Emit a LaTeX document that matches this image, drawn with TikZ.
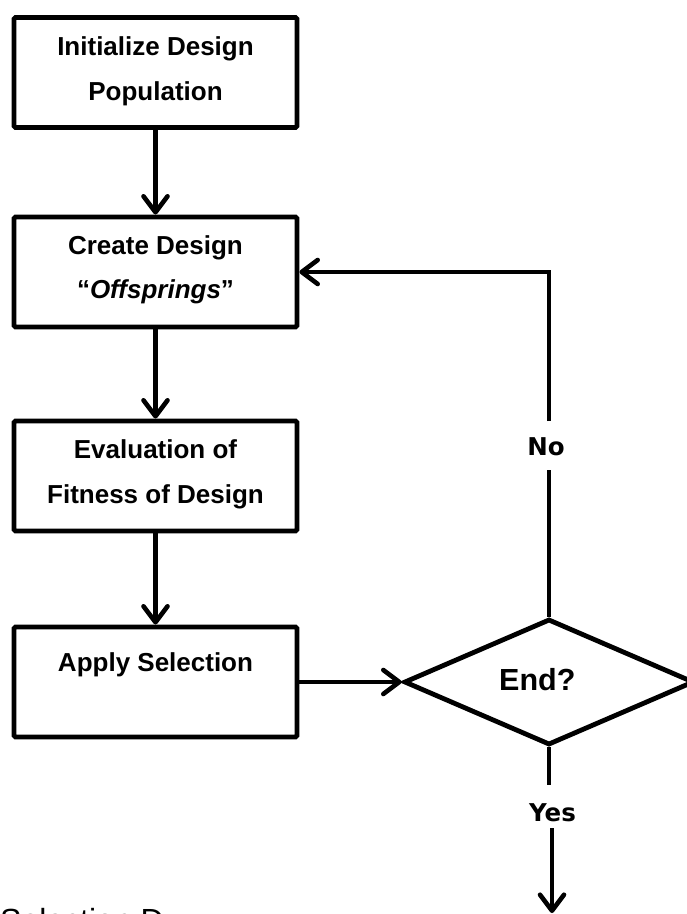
\documentclass[tikz,border=0pt]{standalone}
\usepackage{fontspec}
\setmainfont{Liberation Sans}
\newfontfamily\verdfont{DejaVu Sans}
\usetikzlibrary{arrows.meta,shapes.geometric}

\begin{document}
\begin{tikzpicture}[x=1pt,y=-1pt,
  stage/.style={draw, line width=4.8pt, rounded corners=1.5pt,
    minimum width=283pt, minimum height=110pt, inner sep=0pt},
  decision/.style={draw, diamond, aspect=2.3, line width=4.8pt,
    minimum width=290pt, minimum height=126pt, inner sep=0pt},
  boxtext/.style={anchor=base, inner sep=0pt,
    font=\bfseries\fontsize{26}{30}\selectfont},
  branch/.style={anchor=base, inner sep=0pt,
    font=\verdfont\bfseries\fontsize{24.5}{28}\selectfont},
  link/.style={line width=4.6pt},
  flow/.style={link, -{Straight Barb[length=16pt,width=24pt,round]}},
]
\useasboundingbox (0,0) rectangle (687,914);
\clip (0,0) rectangle (687,914);

% process boxes
\node[stage] (b1) at (155.5,72.5) {};
\node[stage] (b2) at (155.5,272) {};
\node[stage] (b3) at (155.5,476) {};
\node[stage] (b4) at (155.5,682) {};

\node[boxtext] (t1a) at (155.5,55) {Initialize Design};
\node[boxtext] (t1b) at (155.5,100) {Population};
\node[boxtext] (t2a) at (155.5,254) {Create Design};
\node[boxtext] (t2b) at (155.5,298) {“\textit{Offsprings}”};
\node[boxtext] (t3a) at (155.5,458) {Evaluation of};
\node[boxtext] (t3b) at (155.5,503) {Fitness of Design};
\node[boxtext] (t4a) at (155.5,671) {Apply Selection};

% decision
\node[decision] (d) at (549,682) {};
\node[anchor=base west, inner sep=0pt,
  font=\bfseries\fontsize{30.5}{34}\selectfont] (dt) at (499,690) {End?};

% branch labels
\node[branch] (no) at (546,455) {No};
\node[branch] (yes) at (552.5,821) {Yes};

\coordinate (noBot) at (549,470);
\coordinate (noTop) at (549,421);
\coordinate (yesTop) at (549,785);
\coordinate (yesBot) at (552,828);
\coordinate (exit) at (552,913);

% main sequence
\draw[flow] (b1.south) -- (b2.north);
\draw[flow] (b2.south) -- (b3.north);
\draw[flow] (b3.south) -- (b4.north);
\draw[flow] (b4.east) -- (d.west);

% loop back when not finished
\draw[link] (d.north) -- (noBot);
\draw[flow] (noTop) |- (b2.east);

% exit when finished
\draw[link] (d.south) -- (yesTop);
\draw[flow] (yesBot) -- (exit);

% caption below the chart
\node[anchor=base west, inner sep=0pt, font=\fontsize{32}{36}\selectfont]
  (cap) at (0,931) {Selection D};
\end{tikzpicture}
\end{document}
